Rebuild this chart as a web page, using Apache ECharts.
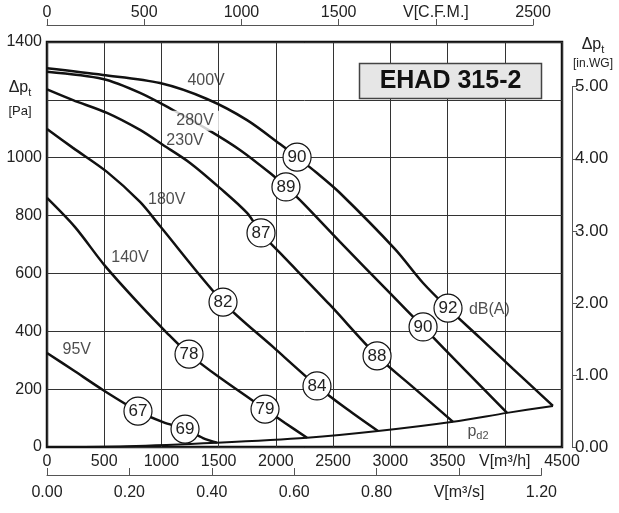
<!DOCTYPE html>
<html><head><meta charset="utf-8">
<script src="https://cdn.jsdelivr.net/npm/echarts@6/dist/echarts.min.js"></script>
<style>html,body{margin:0;padding:0;background:#fff}#c{width:619px;height:513px}</style>
</head><body><div id="c"></div>
<script>
const FONT = "'Liberation Sans', Arial, Helvetica, sans-serif";

// axis tick labels
const flowLabels = ['0','500','1000','1500','2000','2500','3000','3500','V[m³/h]','4500'];
const paLabels = ['0','200','400','600','800','1000','','1400'];
const cfmLabels = ['0','500','1000','1500','V[C.F.M.]','2500'];
const m3sLabels = ['0.00','0.20','0.40','0.60','0.80','V[m³/s]','1.20'];
const inwgLabels = ['0.00','1.00','2.00','3.00','4.00','5.00'];

// fan curves [m3/h, Pa]
const v400 = [[0,1309],[489,1286],[987,1258],[1398,1203],[1748,1130],[2036,1047],[2185,1002],[2359,947],[2560,878],[3041,684],[3286,567],[3504,480],[3784,377],[4072,270],[4421,142]];
const v280 = [[0,1297],[489,1272],[813,1224],[1101,1165],[1398,1099],[1686,1027],[1949,947],[2088,899],[2237,843],[2560,709],[2997,532],[3286,415],[3653,266],[4020,118]];
const v230 = [[0,1236],[227,1199],[524,1155],[813,1096],[1014,1044],[1250,982],[1512,895],[1748,809],[1870,740],[2036,671],[2473,491],[2884,315],[3198,207],[3548,87]];
const v180 = [[0,1099],[227,1034],[524,951],[813,847],[987,764],[1538,501],[1975,346],[2359,211],[2621,131],[2892,55]];
const v140 = [[0,861],[245,760],[507,626],[813,491],[1049,394],[1241,321],[1512,239],[1905,131],[2080,83],[2272,32]];
const v95  = [[0,325],[227,266],[489,197],[795,124],[1014,86],[1206,62],[1363,31],[1486,15]];
const pd2  = [[0,0],[700,3],[1486,15],[2272,32],[2892,55],[3548,87],[4020,118],[4421,142]];

// sound level markers [m3/h, Pa, dB(A)]
const dbMarks = [[2185,1002,90],[2088,899,89],[1870,740,87],[1538,501,82],[1241,321,78],[795,124,67],[1206,62,69],[1905,131,79],[2359,211,84],[2884,315,88],[3286,415,90],[3504,480,92]];

// curve labels [m3/h, Pa, text]
const curveLabels = [[1390,1266,'400V'],[1293,1128,'280V'],[1206,1058,'230V'],[1046,856,'180V'],[725,656,'140V'],[260,338,'95V'],[3865,476,'dB(A)']];
const pd2Label = [[3766,52,'pd2']];

const G = {left:47, top:42, width:515, height:405};
const CFM_TO_M3H = 1.699, INWG_TO_PA = 249.09, M3S_TO_M3H = 3600;
const pxPerFlow = G.width/4500, pxPerPa = G.height/1400;

const lab = {fontFamily:FONT, fontSize:16, color:'#222'};
function secLine(){ return {color:'#555', width:1}; }

const chart = echarts.init(document.getElementById('c'));
function lineSeries(d, w){ return {type:'line', data:d, xAxisIndex:0, yAxisIndex:0, showSymbol:false, smooth:0.3, lineStyle:{color:'#111', width:w||2.5}, z:3, silent:true}; }

chart.setOption({
  animation:false,
  grid:[
    Object.assign({show:true, borderColor:'#111', borderWidth:2.5}, G),
    {left:G.left, top:G.top, width:2500*CFM_TO_M3H*pxPerFlow, height:G.height},
    {left:G.left, top:G.top, width:1.2*M3S_TO_M3H*pxPerFlow, height:G.height},
    {left:G.left, top:G.top+G.height-5*INWG_TO_PA*pxPerPa, width:G.width, height:5*INWG_TO_PA*pxPerPa}
  ],
  xAxis:[
    {gridIndex:0, type:'value', min:0, max:4500, interval:500, position:'bottom',
     axisLine:{show:false}, axisTick:{show:false},
     splitLine:{show:true, lineStyle:{color:'#333', width:1}},
     axisLabel:Object.assign({margin:7, formatter:v=>flowLabels[Math.round(v/500)]}, lab)},
    {gridIndex:1, type:'value', min:0, max:2500, interval:500, position:'top', offset:17,
     axisLine:{show:true, onZero:false, lineStyle:secLine()}, axisTick:{show:true, length:6, lineStyle:secLine()}, splitLine:{show:false},
     axisLabel:Object.assign({margin:4, formatter:v=>cfmLabels[Math.round(v/500)]}, lab)},
    {gridIndex:2, type:'value', min:0, max:1.2, interval:0.2, position:'bottom', offset:28,
     axisLine:{show:true, onZero:false, lineStyle:secLine()}, axisTick:{show:true, inside:true, length:7, lineStyle:secLine()}, splitLine:{show:false},
     axisLabel:Object.assign({margin:10, formatter:v=>m3sLabels[Math.round(v/0.2)]}, lab)},
    {gridIndex:3, type:'value', min:0, max:4500, show:false}
  ],
  yAxis:[
    {gridIndex:0, type:'value', min:0, max:1400, interval:200,
     axisLine:{show:false}, axisTick:{show:false},
     splitLine:{show:true, lineStyle:{color:'#333', width:1}},
     axisLabel:Object.assign({margin:5, formatter:v=>paLabels[Math.round(v/200)]}, lab)},
    {gridIndex:1, type:'value', min:0, max:1400, show:false},
    {gridIndex:2, type:'value', min:0, max:1400, show:false},
    {gridIndex:3, type:'value', min:0, max:5, interval:1, position:'right', offset:10,
     axisLine:{show:true, onZero:false, lineStyle:secLine()}, axisTick:{show:true, length:5, lineStyle:secLine()}, splitLine:{show:false},
     axisLabel:Object.assign({margin:3, formatter:v=>inwgLabels[Math.round(v)]}, lab, {fontSize:17})}
  ],
  series:[
    lineSeries(v400), lineSeries(v280), lineSeries(v230), lineSeries(v180), lineSeries(v140), lineSeries(v95), lineSeries(pd2, 2),
    {type:'scatter', data:[curveLabels[1]], symbolSize:1, itemStyle:{color:'rgba(0,0,0,0)'}, z:4, silent:true,
     label:{show:true, position:'inside', formatter:'    ', backgroundColor:'#fff', padding:[2,22,2,22], fontSize:16}},
    {type:'scatter', data:curveLabels, symbolSize:1, itemStyle:{color:'rgba(0,0,0,0)'}, z:5, silent:true,
     label:{show:true, position:'inside', formatter:p=>p.data[2], fontFamily:FONT, fontSize:16, color:'#222'}},
    {type:'scatter', data:pd2Label, symbolSize:1, itemStyle:{color:'rgba(0,0,0,0)'}, z:5, silent:true,
     label:{show:true, position:'inside', formatter:'{p|p}{s|d2}',
       rich:{p:{fontFamily:FONT, fontSize:16, color:'#222', lineHeight:20}, s:{fontFamily:FONT, fontSize:11, color:'#222', lineHeight:11, verticalAlign:'bottom'}}}},
    {type:'scatter', data:dbMarks, symbolSize:28, z:6, silent:true,
     itemStyle:{color:'#fff', borderColor:'#111', borderWidth:1.2, opacity:1},
     label:{show:true, position:'inside', formatter:p=>String(p.data[2]), fontFamily:FONT, fontSize:17, color:'#222'}}
  ],
  graphic:[
    {type:'rect', shape:{x:359.5, y:63.5, width:182, height:35}, style:{fill:'#e6e6e6', stroke:'#444', lineWidth:1.5}, z:10},
    {type:'text', x:450.5, y:81, style:{text:'EHAD 315-2', font:"bold 25px "+FONT, fill:'#111', align:'center', verticalAlign:'middle'}, z:11},
    {type:'text', x:20, y:88, style:{text:'{p|Δp}{s|t}', align:'center', verticalAlign:'middle',
      rich:{p:{fontFamily:FONT, fontSize:16, fill:'#222', lineHeight:20}, s:{fontFamily:FONT, fontSize:11, fill:'#222', lineHeight:11, verticalAlign:'bottom'}}}},
    {type:'text', x:20, y:111, style:{text:'[Pa]', font:"13px "+FONT, fill:'#222', align:'center', verticalAlign:'middle'}},
    {type:'text', x:593, y:45, style:{text:'{p|Δp}{s|t}', align:'center', verticalAlign:'middle',
      rich:{p:{fontFamily:FONT, fontSize:16, fill:'#222', lineHeight:20}, s:{fontFamily:FONT, fontSize:11, fill:'#222', lineHeight:11, verticalAlign:'bottom'}}}},
    {type:'text', x:593, y:64, style:{text:'[in.WG]', font:"12px "+FONT, fill:'#222', align:'center', verticalAlign:'middle'}}
  ]
});
</script></body></html>
